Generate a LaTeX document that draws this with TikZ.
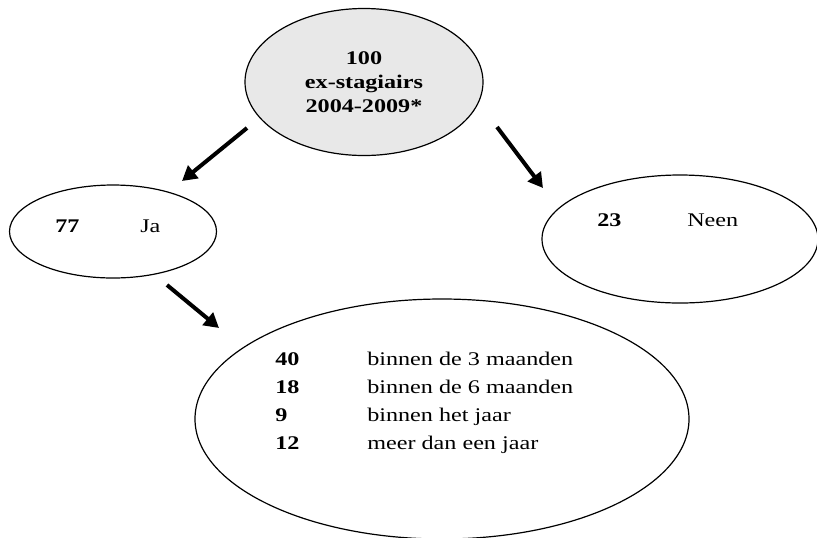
\documentclass[tikz,border=0pt]{standalone}
\usepackage{fontspec}
\setmainfont{Liberation Serif}[FakeStretch=1.25]
\usepackage{tikz}
\usetikzlibrary{shapes.geometric,arrows.meta}
\definecolor{bubblegray}{RGB}{232,232,232}
\tikzstyle{arrow} = [line width=3pt,-{Triangle[length=11pt,width=12pt]}]
\tikzstyle{bubble} = [draw,ellipse,line width=0.9pt,inner sep=0pt]
\tikzstyle{txt} = [anchor=base west,inner sep=0pt,font=\fontsize{14.5pt}{21pt}\selectfont]

\begin{document}
\begin{tikzpicture}[x=0.75pt,y=-0.75pt]
                        \useasboundingbox (0,0) rectangle (817,537);
                        \node[bubble,fill=bubblegray,minimum width=178.5pt,minimum height=110.25pt,
                            align=center,font=\bfseries\fontsize{14.5pt}{18pt}\selectfont]
                            (total) at (364,82) {100\\ex-stagiairs\\2004-2009*};
                        \node[bubble,minimum width=155.25pt,minimum height=69.75pt]
                            (ja) at (113,231.5) {};
                        \node[bubble,minimum width=207pt,minimum height=96pt]
                            (neen) at (680,239) {};
                        \node[bubble,minimum width=370.5pt,minimum height=180pt]
                            (wanneer) at (442,419) {};
                        % teksten
                        \node[txt,font=\bfseries\fontsize{14.5pt}{21pt}\selectfont] (jaNum) at (55,232) {77};
                        \node[txt] (jaLabel) at (140,232) {Ja};
                        \node[txt,font=\bfseries\fontsize{14.5pt}{21pt}\selectfont] (neenNum) at (597,226) {23};
                        \node[txt] (neenLabel) at (687,226) {Neen};
                        \node[txt] (wanneerList) at (275,365) {%
                            \begin{tabular}[t]{@{}p{69pt}@{}l@{}}
                            \textbf{40} & binnen de 3 maanden\\
                            \textbf{18} & binnen de 6 maanden\\
                            \textbf{9}  & binnen het jaar\\
                            \textbf{12} & meer dan een jaar
                            \end{tabular}};
                        % pijlen
                        \coordinate (jaStart) at (247,128);
                        \coordinate (jaTip) at (182,181);
                        \coordinate (neenStart) at (497,127);
                        \coordinate (neenTip) at (543,188);
                        \coordinate (wanneerStart) at (167,285);
                        \coordinate (wanneerTip) at (219,328);
                        \draw[arrow] (jaStart) -- (jaTip);
                        \draw[arrow] (neenStart) -- (neenTip);
                        \draw[arrow] (wanneerStart) -- (wanneerTip);
                    \end{tikzpicture}
\end{document}
